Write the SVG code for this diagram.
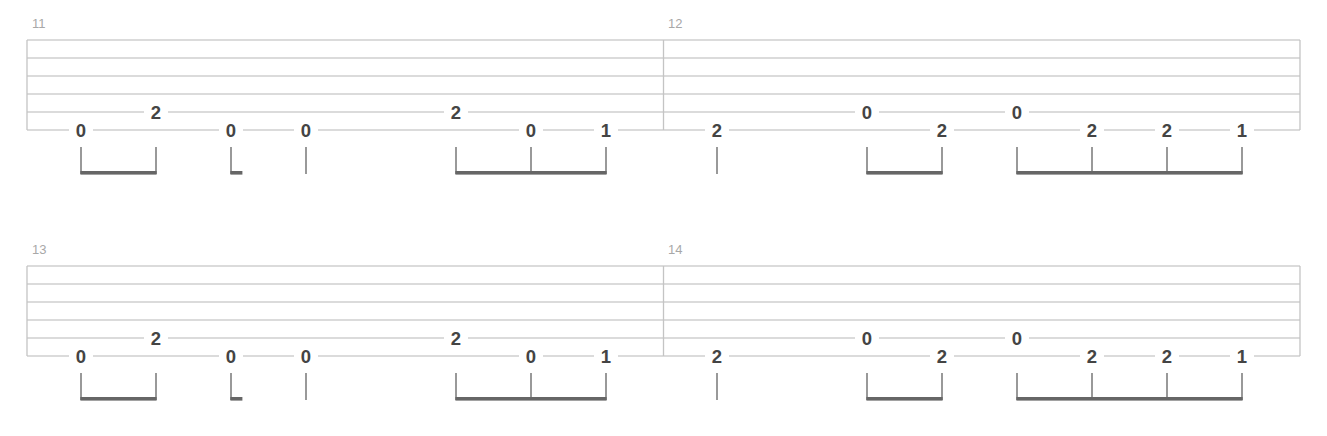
<svg xmlns="http://www.w3.org/2000/svg" width="1327" height="436" viewBox="0 0 1327 436">
<style>
.ln{stroke:#cfcfcf;stroke-width:1.3;fill:none}
.bar{stroke:#c4c4c4;stroke-width:1.3}
.mn{font-family:"Liberation Sans",Arial,sans-serif;font-size:13px;fill:#a8a8a8}
.n{font-family:"Liberation Sans",Arial,sans-serif;font-size:18.5px;font-weight:bold;fill:#444;text-anchor:middle}
.bg{fill:#fff}
.st{stroke:#555;stroke-width:1.2}
.bm{fill:#666}
</style>
<defs>
<g id="system">
<g id="staff">
<line class="ln" x1="27" y1="40" x2="1300" y2="40"/>
<line class="ln" x1="27" y1="58" x2="1300" y2="58"/>
<line class="ln" x1="27" y1="76" x2="1300" y2="76"/>
<line class="ln" x1="27" y1="94" x2="1300" y2="94"/>
<line class="ln" x1="27" y1="112" x2="1300" y2="112"/>
<line class="ln" x1="27" y1="130" x2="1300" y2="130"/>
<line class="bar" x1="27" y1="40" x2="27" y2="130"/>
<line class="bar" x1="663.5" y1="40" x2="663.5" y2="130"/>
<line class="bar" x1="1300" y1="40" x2="1300" y2="130"/>
</g>
<g id="notes">
<rect class="bg" x="69" y="122" width="24" height="16"/><text class="n" x="81" y="136.6">0</text>
<rect class="bg" x="144" y="104" width="24" height="16"/><text class="n" x="156" y="118.6">2</text>
<rect class="bg" x="219" y="122" width="24" height="16"/><text class="n" x="231" y="136.6">0</text>
<rect class="bg" x="294" y="122" width="24" height="16"/><text class="n" x="306" y="136.6">0</text>
<rect class="bg" x="444" y="104" width="24" height="16"/><text class="n" x="456" y="118.6">2</text>
<rect class="bg" x="519" y="122" width="24" height="16"/><text class="n" x="531" y="136.6">0</text>
<rect class="bg" x="594" y="122" width="24" height="16"/><text class="n" x="606" y="136.6">1</text>
<rect class="bg" x="705" y="122" width="24" height="16"/><text class="n" x="717" y="136.6">2</text>
<rect class="bg" x="855" y="104" width="24" height="16"/><text class="n" x="867" y="118.6">0</text>
<rect class="bg" x="930" y="122" width="24" height="16"/><text class="n" x="942" y="136.6">2</text>
<rect class="bg" x="1005" y="104" width="24" height="16"/><text class="n" x="1017" y="118.6">0</text>
<rect class="bg" x="1080" y="122" width="24" height="16"/><text class="n" x="1092" y="136.6">2</text>
<rect class="bg" x="1155" y="122" width="24" height="16"/><text class="n" x="1167" y="136.6">2</text>
<rect class="bg" x="1230" y="122" width="24" height="16"/><text class="n" x="1242" y="136.6">1</text>
</g>
<g id="rhythm">
<line class="st" x1="81" y1="147" x2="81" y2="174"/>
<line class="st" x1="156" y1="147" x2="156" y2="174"/>
<rect class="bm" x="80.4" y="171" width="76.2" height="3.6"/>
<line class="st" x1="231" y1="147" x2="231" y2="174"/>
<rect class="bm" x="230.4" y="171" width="12" height="3.6"/>
<line class="st" x1="306" y1="147" x2="306" y2="174"/>
<line class="st" x1="456" y1="147" x2="456" y2="174"/>
<line class="st" x1="531" y1="147" x2="531" y2="174"/>
<line class="st" x1="606" y1="147" x2="606" y2="174"/>
<rect class="bm" x="455.4" y="171" width="151.2" height="3.6"/>
<line class="st" x1="717" y1="147" x2="717" y2="174"/>
<line class="st" x1="867" y1="147" x2="867" y2="174"/>
<line class="st" x1="942" y1="147" x2="942" y2="174"/>
<rect class="bm" x="866.4" y="171" width="76.2" height="3.6"/>
<line class="st" x1="1017" y1="147" x2="1017" y2="174"/>
<line class="st" x1="1092" y1="147" x2="1092" y2="174"/>
<line class="st" x1="1167" y1="147" x2="1167" y2="174"/>
<line class="st" x1="1242" y1="147" x2="1242" y2="174"/>
<rect class="bm" x="1016.4" y="171" width="226.2" height="3.6"/>
</g>
</g>
</defs>
<g id="system1">
<use href="#system"/>
<text class="mn" x="32" y="28">11</text>
<text class="mn" x="668" y="28">12</text>
</g>
<g id="system2">
<use href="#system" y="226"/>
<text class="mn" x="32" y="254">13</text>
<text class="mn" x="668" y="254">14</text>
</g>
</svg>
